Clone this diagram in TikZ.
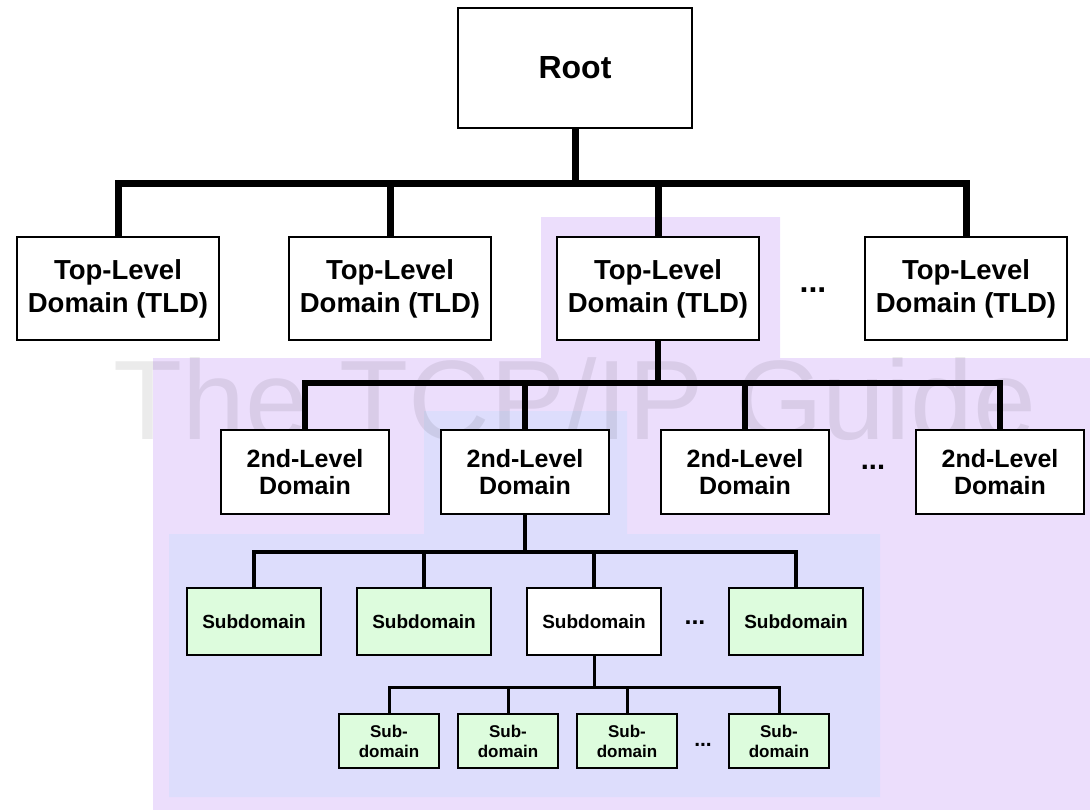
\documentclass[tikz,border=0pt]{standalone}
\usepackage{fontspec}
\setmainfont{Liberation Sans}
\usetikzlibrary{positioning}
\definecolor{zonepurple}{RGB}{236,222,252}
\definecolor{zoneblue}{RGB}{221,221,252}
\definecolor{leafgreen}{RGB}{221,252,221}

\begin{document}
\begin{tikzpicture}[x=1bp,y=-1bp,
    box/.style={draw,line width=2.5bp,fill=white,inner sep=0pt,align=center},
    rootbox/.style={box,minimum width=234bp,minimum height=120bp,font=\bfseries\fontsize{32bp}{38bp}\selectfont},
    tldbox/.style={box,minimum width=202bp,minimum height=103bp,font=\bfseries\fontsize{27.5bp}{33bp}\selectfont},
    sldbox/.style={box,minimum width=168bp,minimum height=84bp,font=\bfseries\fontsize{25bp}{27bp}\selectfont},
    subbox/.style={box,minimum width=134bp,minimum height=67bp,font=\bfseries\fontsize{19bp}{22bp}\selectfont},
    leafbox/.style={box,minimum width=100bp,minimum height=54bp,font=\bfseries\fontsize{17bp}{20bp}\selectfont},
    dots/.style={font=\bfseries\fontsize{32bp}{32bp}\selectfont,inner sep=0pt},
    link/.style={line join=miter},
    linka/.style={link,line width=7bp},
    linkb/.style={link,line width=6bp},
    linkc/.style={link,line width=4.5bp},
    linkd/.style={link,line width=3bp}]
	\useasboundingbox (0,0) rectangle (1090,810);
	% shaded zones
	\fill[zonepurple] (541,217) -- (780,217) -- (780,358) -- (1090,358) -- (1090,810)
		-- (153,810) -- (153,358) -- (541,358) -- cycle;
	\fill[zoneblue] (424,411) -- (627,411) -- (627,534) -- (880,534) -- (880,797)
		-- (169,797) -- (169,534) -- (424,534) -- cycle;
	\node[font=\fontsize{113bp}{113bp}\selectfont,text=black,text opacity=0.08,anchor=base,inner sep=0pt] (mark) at (575,439) {The TCP/IP Guide};

	% boxes
	\node[rootbox] (root) at (575,68) {Root};
	\node[tldbox] (tld1) at (118,288.5) {Top-Level\\Domain (TLD)};
	\node[tldbox] (tld2) at (390,288.5) {Top-Level\\Domain (TLD)};
	\node[tldbox] (tld3) at (658,288.5) {Top-Level\\Domain (TLD)};
	\node[tldbox] (tld4) at (966,288.5) {Top-Level\\Domain (TLD)};
	\node[dots] (dotsa) at (813,290) {...};

	\node[sldbox] (sld1) at (305,472) {2nd-Level\\Domain};
	\node[sldbox] (sld2) at (525,472) {2nd-Level\\Domain};
	\node[sldbox] (sld3) at (745,472) {2nd-Level\\Domain};
	\node[sldbox] (sld4) at (1000,472) {2nd-Level\\Domain};
	\node[dots,font=\bfseries\fontsize{29bp}{29bp}\selectfont] (dotsb) at (873,467) {...};

	\node[subbox,fill=leafgreen] (sub1) at (254,621.5) {Subdomain};
	\node[subbox,fill=leafgreen] (sub2) at (424,621.5) {Subdomain};
	\node[subbox] (sub3) at (594,621.5) {Subdomain};
	\node[subbox,fill=leafgreen] (sub4) at (796,621.5) {Subdomain};
	\node[dots,font=\bfseries\fontsize{25bp}{25bp}\selectfont] (dotsc) at (695,623) {...};

	\node[leafbox,fill=leafgreen] (leaf1) at (389,741) {Sub-\\domain};
	\node[leafbox,fill=leafgreen] (leaf2) at (508,741) {Sub-\\domain};
	\node[leafbox,fill=leafgreen] (leaf3) at (627,741) {Sub-\\domain};
	\node[leafbox,fill=leafgreen] (leaf4) at (779,741) {Sub-\\domain};
	\node[dots,font=\bfseries\fontsize{21bp}{21bp}\selectfont] (dotsd) at (703,745) {...};

	% tree links
	\coordinate (ja) at (575,183);
	\draw[linka] (root.south) -- (ja);
	\draw[linka] (tld1.north) |- (ja) -| (tld4.north);
	\draw[linka] (tld2.north) -- (tld2.north |- ja);
	\draw[linka] (tld3.north) -- (tld3.north |- ja);

	\coordinate (jb) at (658,383);
	\draw[linkb] (tld3.south) -- (jb);
	\draw[linkb] (sld1.north) |- (jb) -| (sld4.north);
	\draw[linkb] (sld2.north) -- (sld2.north |- jb);
	\draw[linkb] (sld3.north) -- (sld3.north |- jb);

	\coordinate (jc) at (525,552);
	\draw[linkc] (sld2.south) -- (jc);
	\draw[linkc] (sub1.north) |- (jc) -| (sub4.north);
	\draw[linkc] (sub2.north) -- (sub2.north |- jc);
	\draw[linkc] (sub3.north) -- (sub3.north |- jc);

	\coordinate (jd) at (594,687);
	\draw[linkd] (sub3.south) -- (jd);
	\draw[linkd] (leaf1.north) |- (jd) -| (leaf4.north);
	\draw[linkd] (leaf2.north) -- (leaf2.north |- jd);
	\draw[linkd] (leaf3.north) -- (leaf3.north |- jd);
\end{tikzpicture}
\end{document}
